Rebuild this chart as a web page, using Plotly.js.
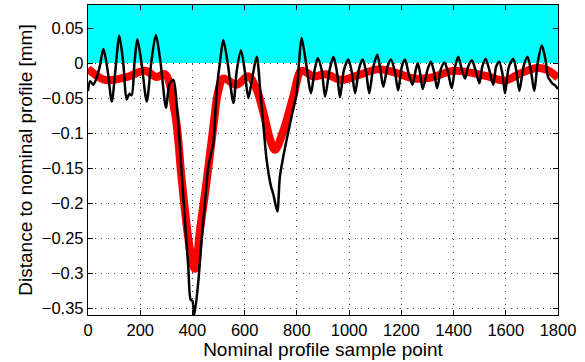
<!DOCTYPE html>
<html>
<head>
<meta charset="utf-8">
<script src="https://cdn.plot.ly/plotly-3.0.1.min.js"></script>
<style>html,body{margin:0;padding:0;background:#fff;}</style>
</head>
<body>
<div id="chart" style="width:585px;height:362px;"></div>
<script>
// Red (smooth / nominal fit) profile
const redX = [0,65,148,218,263,295,333,359,384,403,410,429,455,480,499,518,569,614,646,672,700,716,748,786,818,863,910,970,1030,1110,1180,1250,1310,1400,1470,1540,1597,1660,1720,1760,1800];
const redY = [-0.008,-0.024,-0.020,-0.011,-0.020,-0.016,-0.071,-0.167,-0.250,-0.290,-0.294,-0.238,-0.167,-0.091,-0.040,-0.022,-0.031,-0.019,-0.038,-0.071,-0.112,-0.124,-0.097,-0.048,-0.011,-0.019,-0.016,-0.024,-0.018,-0.009,-0.014,-0.022,-0.021,-0.011,-0.014,-0.020,-0.025,-0.014,-0.007,-0.010,-0.021];

// Black (measured) profile
const blackX = [0,8,20,33,45,59,75,91,105,120,135,148,158,167,178,189,205,225,242,260,278,299,312,327,340,352,371,384,393,400,407,423,435,448,461,480,493,505,518,535,557,570,586,600,614,627,646,660,672,684,700,710,725,735,755,780,799,808,818,835,854,868,880,895,908,925,940,953,965,980,997,1010,1023,1038,1052,1065,1077,1093,1108,1120,1131,1147,1160,1175,1188,1202,1214,1228,1243,1255,1263,1272,1282,1300,1313,1325,1337,1352,1365,1378,1393,1406,1418,1432,1444,1456,1470,1484,1499,1510,1523,1537,1552,1563,1575,1587,1597,1612,1629,1640,1652,1668,1683,1696,1709,1722,1738,1752,1762,1769,1778,1789,1800];
const blackY = [-0.040,-0.026,-0.031,-0.021,-0.005,0.020,-0.010,-0.055,-0.010,0.039,0.000,-0.052,-0.044,-0.046,0.000,0.034,0.000,-0.055,0.000,0.040,0.000,-0.064,-0.030,-0.024,-0.060,-0.119,-0.224,-0.291,-0.338,-0.340,-0.360,-0.310,-0.252,-0.200,-0.148,-0.114,-0.038,0.000,0.033,0.000,-0.057,-0.010,0.018,-0.010,-0.050,-0.026,0.009,-0.040,-0.090,-0.138,-0.175,-0.188,-0.212,-0.162,-0.120,-0.076,-0.043,0.000,0.036,0.000,-0.043,-0.010,0.007,-0.010,-0.048,-0.010,0.009,-0.012,-0.049,-0.010,0.005,-0.012,-0.043,-0.008,0.005,-0.012,-0.043,-0.005,0.012,-0.010,-0.034,-0.005,0.005,-0.012,-0.039,-0.005,0.005,-0.015,-0.031,-0.010,0.000,-0.015,-0.037,-0.010,0.002,-0.012,-0.036,-0.008,0.001,-0.012,-0.036,-0.005,0.009,-0.010,-0.022,-0.005,0.004,-0.010,-0.029,-0.005,0.006,-0.010,-0.031,-0.005,0.002,-0.015,-0.043,-0.005,0.006,-0.010,-0.040,-0.005,0.009,-0.010,-0.040,0.000,0.025,0.005,-0.020,-0.024,-0.029,-0.032,-0.037];

const xTicks = [0,200,400,600,800,1000,1200,1400,1600,1800];
const yTicks = [0.05,0,-0.05,-0.1,-0.15,-0.2,-0.25,-0.3,-0.35];
const yTickText = ['0.05','0','\u22120.05','\u22120.1','\u22120.15','\u22120.2','\u22120.25','\u22120.3','\u22120.35'];
const xRange = [0,1800];
const yRange = [-0.36,0.083];

const traces = [
  {x: redX, y: redY, type:'scatter', mode:'lines', line:{color:'#ff0000', width:8, shape:'spline', smoothing:1}, hoverinfo:'skip'},
  {x: blackX, y: blackY, type:'scatter', mode:'lines', line:{color:'#000000', width:2.5, shape:'spline', smoothing:0.8}, hoverinfo:'skip'}
];

const FONT = 'Liberation Sans, Arial, Helvetica, sans-serif';
const axisCommon = {
  showline:true, linecolor:'#000', linewidth:1.2, mirror:'ticks',
  ticks:'inside', ticklen:5, tickcolor:'#000',
  showgrid:true, gridcolor:'#444', griddash:'1px,5.5px', gridwidth:1,
  zeroline:false,
  tickfont:{family:FONT, size:16.5, color:'#000'}
};

const layout = {
  width:585, height:362,
  margin:{l:88, r:27, t:5, b:47},
  paper_bgcolor:'#fff', plot_bgcolor:'#fff',
  showlegend:false,
  xaxis: Object.assign({}, axisCommon, {
    range:xRange, tickmode:'array', tickvals:xTicks, ticklabelstandoff:0,
    title:{text:'Nominal profile sample point', font:{family:FONT, size:19, color:'#000'}, standoff:0}
  }),
  yaxis: Object.assign({}, axisCommon, {
    range:yRange, tickmode:'array', tickvals:yTicks, ticktext:yTickText,
    title:{text:'Distance to nominal profile [mm]', font:{family:FONT, size:19, color:'#000'}, standoff:4}
  }),
  shapes:[{type:'rect', xref:'x', yref:'y', x0:xRange[0], x1:xRange[1], y0:0, y1:yRange[1], fillcolor:'#00ffff', line:{width:0}, layer:'between'}]
};

Plotly.newPlot('chart', traces, layout, {staticPlot:true, displayModeBar:false});
</script>
</body>
</html>
